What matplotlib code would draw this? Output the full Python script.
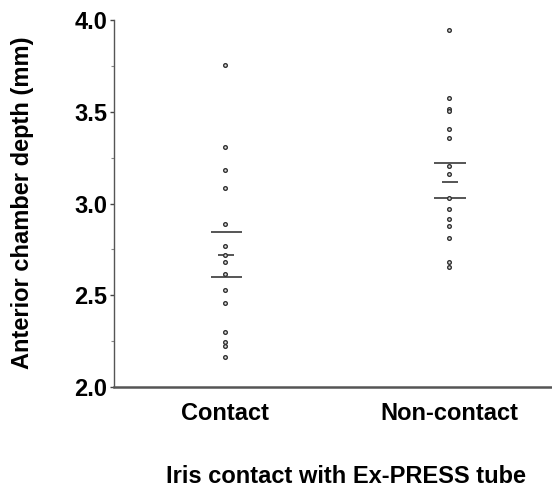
import matplotlib
matplotlib.use("Agg")
import matplotlib.pyplot as plt
from matplotlib.ticker import MultipleLocator

plt.rcParams['font.family'] = ['Liberation Sans', 'DejaVu Sans']

categories = ["Contact", "Non-contact"]
contact = [3.755, 3.306, 3.183, 3.083, 2.888, 2.768, 2.719, 2.683, 2.614,
           2.529, 2.456, 2.298, 2.247, 2.223, 2.162]
noncontact = [3.946, 3.573, 3.514, 3.506, 3.406, 3.355, 3.206, 3.161, 3.032,
              2.970, 2.914, 2.876, 2.810, 2.680, 2.656]
means = [2.719, 3.119]
ci_upper = [2.843, 3.219]
ci_lower = [2.598, 3.030]

fig = plt.figure(figsize=(5.52, 4.87), dpi=100)
ax = fig.add_axes([0.2065, 0.2053, 0.7935, 0.7536])

for i, vals in enumerate([contact, noncontact]):
    ax.scatter([i] * len(vals), vals, s=7, facecolors='#dddddd',
               edgecolors='#333333', linewidths=1.0, zorder=3)
    ax.hlines([ci_upper[i], ci_lower[i]], i - 0.065, i + 0.075,
              color='#555555', linewidth=1.4, zorder=2)
    ax.hlines(means[i], i - 0.03, i + 0.04, color='#555555',
              linewidth=1.4, zorder=2)

ax.set_xlim(-0.496, 1.46)
ax.set_ylim(2.0, 4.0)
ax.set_xticks([0, 1])
ax.set_xticklabels(categories, fontsize=17, fontweight='bold')
ax.tick_params(axis='x', length=0, pad=11)
ax.set_yticks([2.0, 2.5, 3.0, 3.5, 4.0])
ax.set_yticklabels(['2.0', '2.5', '3.0', '3.5', '4.0'], fontsize=17,
                   fontweight='bold')
ax.yaxis.set_minor_locator(MultipleLocator(0.25))
ax.tick_params(axis='y', which='major', length=3, width=1, color='#444444', pad=2)
ax.tick_params(axis='y', which='minor', length=2, width=0.8, color='#888888')

for s in ['top', 'right']:
    ax.spines[s].set_visible(False)
for s in ['left', 'bottom']:
    ax.spines[s].set_color('#555555')
ax.spines['left'].set_linewidth(1.0)
ax.spines['bottom'].set_linewidth(1.8)

fig.text(23 / 552, 1 - 203 / 487, 'Anterior chamber depth (mm)', fontsize=17,
         fontweight='bold', rotation=90, ha='center', va='center')
fig.text(346 / 552, 4 / 487, 'Iris contact with Ex-PRESS tube', fontsize=17,
         fontweight='bold', ha='center', va='baseline')

fig.savefig('out.png', dpi=100)
